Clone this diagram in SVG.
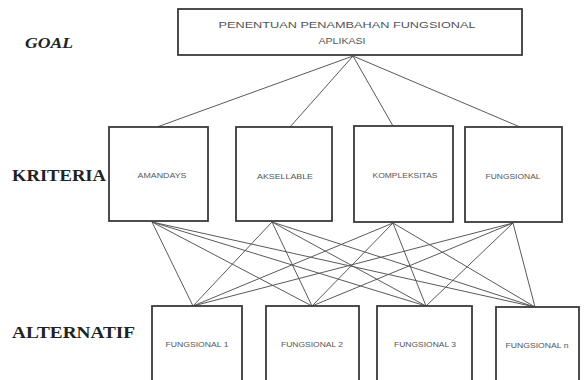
<svg xmlns="http://www.w3.org/2000/svg" width="584" height="380" viewBox="0 0 584 380">
  <style>
    .box { fill: #ffffff; stroke: #3a3a3a; stroke-width: 1.8; }
    .link { stroke: #5a5a5a; stroke-width: 1; fill: none; }
    .lvl { font-family: "Liberation Serif", "Times New Roman", serif; font-weight: bold; fill: #222222; }
    .lbl { font-family: "Liberation Sans", Arial, sans-serif; fill: #555555; text-anchor: middle; }
  </style>
  <rect width="584" height="380" fill="#ffffff"/>

  <!-- level captions -->
  <g id="levels">
    <text class="lvl" x="25" y="48" font-size="15" font-style="italic" textLength="48" lengthAdjust="spacingAndGlyphs">GOAL</text>
    <text class="lvl" x="12" y="181" font-size="17" textLength="94" lengthAdjust="spacingAndGlyphs">KRITERIA</text>
    <text class="lvl" x="12" y="338" font-size="17" textLength="123" lengthAdjust="spacingAndGlyphs">ALTERNATIF</text>
  </g>

  <!-- connectors -->
  <g id="connectors">
    <line class="link" x1="353" y1="56" x2="157" y2="127"/>
    <line class="link" x1="353" y1="56" x2="290" y2="127"/>
    <line class="link" x1="353" y1="56" x2="393" y2="126"/>
    <line class="link" x1="353" y1="56" x2="520" y2="127"/>

    <line class="link" x1="152" y1="222" x2="193" y2="306"/>
    <line class="link" x1="152" y1="222" x2="312" y2="306"/>
    <line class="link" x1="152" y1="222" x2="426" y2="306"/>
    <line class="link" x1="152" y1="222" x2="535" y2="307"/>

    <line class="link" x1="272" y1="222" x2="193" y2="306"/>
    <line class="link" x1="272" y1="222" x2="312" y2="306"/>
    <line class="link" x1="272" y1="222" x2="426" y2="306"/>
    <line class="link" x1="272" y1="222" x2="535" y2="307"/>

    <line class="link" x1="393" y1="223" x2="193" y2="306"/>
    <line class="link" x1="393" y1="223" x2="312" y2="306"/>
    <line class="link" x1="393" y1="223" x2="426" y2="306"/>
    <line class="link" x1="393" y1="223" x2="535" y2="307"/>

    <line class="link" x1="513" y1="223" x2="193" y2="306"/>
    <line class="link" x1="513" y1="223" x2="312" y2="306"/>
    <line class="link" x1="513" y1="223" x2="426" y2="306"/>
    <line class="link" x1="513" y1="223" x2="535" y2="307"/>
  </g>

  <!-- goal -->
  <g id="goal">
    <rect class="box" x="178" y="9" width="344" height="46"/>
    <text class="lbl" x="347" y="28" font-size="9" textLength="257" lengthAdjust="spacingAndGlyphs">PENENTUAN PENAMBAHAN FUNGSIONAL</text>
    <text class="lbl" x="342" y="44" font-size="9" textLength="47" lengthAdjust="spacingAndGlyphs">APLIKASI</text>
  </g>

  <!-- criteria -->
  <g id="k-amandays">
    <rect class="box" x="109" y="127" width="99" height="94"/>
    <text class="lbl" x="162" y="178" font-size="7" textLength="49" lengthAdjust="spacingAndGlyphs">AMANDAYS</text>
  </g>
  <g id="k-akselable">
    <rect class="box" x="236" y="127" width="96" height="94"/>
    <text class="lbl" x="285" y="179" font-size="7" textLength="56" lengthAdjust="spacingAndGlyphs">AKSELLABLE</text>
  </g>
  <g id="k-kompleksitas">
    <rect class="box" x="354" y="126" width="99" height="96"/>
    <text class="lbl" x="405" y="178" font-size="7" textLength="65" lengthAdjust="spacingAndGlyphs">KOMPLEKSITAS</text>
  </g>
  <g id="k-fungsional">
    <rect class="box" x="465" y="127" width="97" height="95"/>
    <text class="lbl" x="513" y="179" font-size="7" textLength="55" lengthAdjust="spacingAndGlyphs">FUNGSIONAL</text>
  </g>

  <!-- alternatives -->
  <g id="a-fungsional-1">
    <rect class="box" x="152" y="306" width="90" height="80"/>
    <text class="lbl" x="197" y="347" font-size="7" textLength="63" lengthAdjust="spacingAndGlyphs">FUNGSIONAL 1</text>
  </g>
  <g id="a-fungsional-2">
    <rect class="box" x="266" y="306" width="93" height="80"/>
    <text class="lbl" x="312" y="347" font-size="7" textLength="62" lengthAdjust="spacingAndGlyphs">FUNGSIONAL 2</text>
  </g>
  <g id="a-fungsional-3">
    <rect class="box" x="377" y="306" width="95" height="80"/>
    <text class="lbl" x="425" y="347" font-size="7" textLength="62" lengthAdjust="spacingAndGlyphs">FUNGSIONAL 3</text>
  </g>
  <g id="a-fungsional-n">
    <rect class="box" x="496" y="307" width="83" height="80"/>
    <text class="lbl" x="537" y="348" font-size="7" textLength="63" lengthAdjust="spacingAndGlyphs">FUNGSIONAL n</text>
  </g>
</svg>
